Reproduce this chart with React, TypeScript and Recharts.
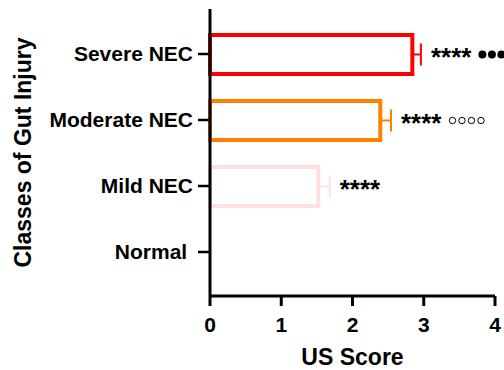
import React from 'react';
import { BarChart, Bar, XAxis, YAxis, ErrorBar, LabelList, Label } from 'recharts';

const categories = ['Severe NEC', 'Moderate NEC', 'Mild NEC', 'Normal\u00A0'];
const means = [2.84, 2.39, 1.52, 0];
const sems = [0.12, 0.15, 0.16, 0];
const colors = ['#FF0000', '#FF8000', '#FFE0E0', '#000000'];
const stars = ['****', '****', '****', ''];
const posthoc = ['filled', 'open', '', ''];
const xTicks = [0, 1, 2, 3, 4];

const seriesIdx = [0, 1, 2];

const data = categories.map((cat, j) => {
  const row: any = { cat };
  seriesIdx.forEach((i) => {
    row[`v${i}`] = i === j ? means[j] : null;
    row[`e${i}`] = i === j ? [0, sems[j]] : null;
  });
  return row;
});

const FONT = '"Liberation Sans", Arial, sans-serif';

const makeLabel = (i: number) => (props: any) => {
  const { x, y, width, height, value } = props;
  if (value == null || !stars[i]) return null;
  const pxPerUnit = width / value;
  const sx = x + width + sems[i] * pxPerUnit + 10;
  const cy = y + height / 2;
  const circles = [0, 1, 2, 3].map((k) => {
    const cx = sx + 51.5 + k * 9.5;
    if (posthoc[i] === 'filled') return <circle key={k} cx={cx} cy={cy} r={4} fill="#000" />;
    if (posthoc[i] === 'open') return <circle key={k} cx={cx} cy={cy} r={3.2} fill="none" stroke="#000" strokeWidth={1} />;
    return null;
  });
  return (
    <g>
      <text x={sx} y={cy + 11} fontFamily={FONT} fontWeight="bold" fontSize={26} fill="#000">{stars[i]}</text>
      {circles}
    </g>
  );
};

const YTitle = (props: any) => {
  const { viewBox } = props;
  const cy = viewBox.y + viewBox.height / 2;
  const x = 31;
  return (
    <text x={x} y={cy} transform={`rotate(-90, ${x}, ${cy})`} textAnchor="middle" fontFamily={FONT} fontWeight="bold" fontSize={23} fill="#000">
      Classes of Gut Injury
    </text>
  );
};

export default function App() {
  return (
    <div style={{ position: 'absolute', left: 0, top: 0, background: '#fff' }}>
      <BarChart
        width={504}
        height={370}
        data={data}
        layout="vertical"
        margin={{ top: 9, right: 9, left: 0, bottom: 0 }}
        barSize={39}
        barGap={-39}
      >
        <XAxis
          type="number"
          domain={[0, 4]}
          ticks={xTicks}
          height={74}
          axisLine={{ stroke: '#000', strokeWidth: 3 }}
          tickLine={{ stroke: '#000', strokeWidth: 3 }}
          tickSize={10}
          tickMargin={11}
          tick={{ fill: '#000', fontSize: 21, fontWeight: 'bold', fontFamily: FONT }}
          interval={0}
        >
          <Label value="US Score" position="insideBottom" offset={5} fill="#000" fontSize={23} fontWeight="bold" fontFamily={FONT} />
        </XAxis>
        <YAxis
          type="category"
          dataKey="cat"
          width={210}
          padding={{ top: 12, bottom: 11 }}
          axisLine={{ stroke: '#000', strokeWidth: 3 }}
          tickLine={{ stroke: '#000', strokeWidth: 2.5 }}
          tickSize={12}
          tickMargin={5}
          tick={{ fill: '#000', fontSize: 21, fontWeight: 'bold', fontFamily: FONT }}
          interval={0}
        >
          <Label content={<YTitle />} />
        </YAxis>
        {seriesIdx.map((i) => (
          <Bar
            key={i}
            dataKey={`v${i}`}
            fill="#fff"
            stroke={colors[i]}
            strokeWidth={4}
            isAnimationActive={false}
          >
            <ErrorBar dataKey={`e${i}`} direction="x" width={11} stroke={colors[i]} strokeWidth={2} />
            <LabelList dataKey={`v${i}`} content={makeLabel(i)} />
          </Bar>
        ))}
      </BarChart>
    </div>
  );
}
